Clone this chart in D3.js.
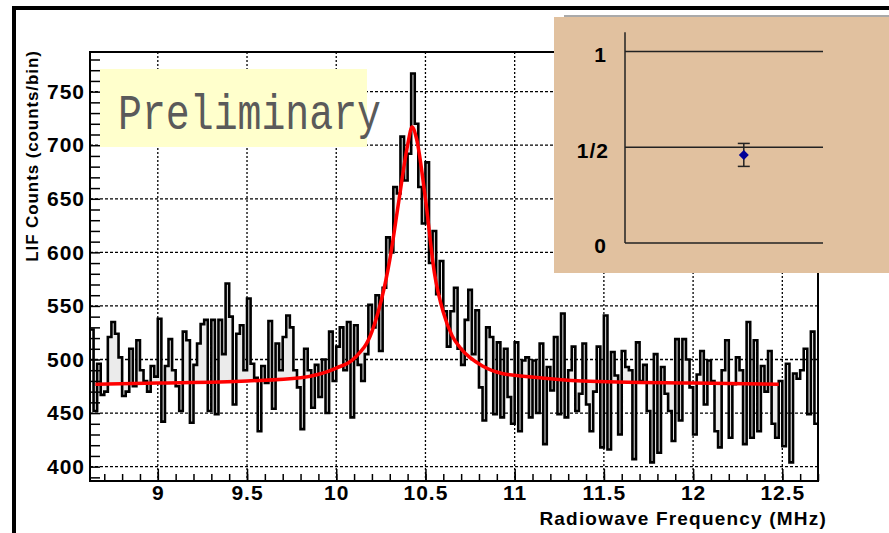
<!DOCTYPE html>
<html>
<head>
<meta charset="utf-8">
<script src="https://cdn.jsdelivr.net/npm/d3@7"></script>
<style>
  body { margin: 0; background: #fff; }
  svg { display: block; }
</style>
</head>
<body>
<svg id="chart" width="889" height="533"></svg>
<script>
// histogram: LIF counts per bin, bins of 0.02 MHz starting at 8.62 MHz
var binStart = 8.62
var binWidth = 0.02
var counts = [
  528, 452, 496, 467, 470, 521, 535, 524, 502, 466,
  470, 510, 475, 518, 490, 480, 470, 494, 484, 538,
  442, 494, 519, 490, 475, 452, 526, 518, 441, 495,
  515, 533, 537, 452, 537, 449, 537, 505, 571, 540,
  458, 524, 532, 490, 557, 496, 483, 433, 494, 478,
  536, 454, 515, 490, 521, 541, 530, 490, 474, 435,
  510, 490, 455, 495, 465, 500, 450, 526, 480, 512,
  530, 490, 535, 446, 532, 495, 480, 505, 551, 530,
  560, 508, 567, 614, 600, 661, 655, 708, 667, 692,
  767, 720, 661, 627, 684, 590, 620, 561, 592, 545,
  512, 545, 567, 510, 495, 537, 565, 505, 546, 474,
  443, 530, 521, 449, 516, 446, 510, 465, 440, 516,
  433, 499, 502, 446, 499, 450, 515, 421, 493, 471,
  521, 449, 543, 446, 490, 512, 452, 468, 515, 458,
  433, 470, 512, 418, 541, 416, 507, 485, 430, 508,
  493, 490, 407, 516, 480, 495, 452, 404, 505, 413,
  493, 468, 452, 424, 519, 443, 519, 500, 474, 430,
  486, 508, 458, 499, 480, 433, 418, 490, 518, 427,
  477, 502, 490, 421, 535, 427, 518, 433, 494, 470,
  508, 440, 427, 480, 419, 496, 404, 487, 482, 490,
  510, 449, 526, 440
]

// fit curve (MHz, counts)
var fitFreq = [8.65, 9.0, 9.5, 9.8, 10.0, 10.1, 10.2, 10.3, 10.35, 10.4, 10.425, 10.45, 10.5, 10.55, 10.6, 10.65, 10.7, 10.82, 10.93, 11.08, 11.38, 12.0, 12.48]
var fitCounts = [477, 478, 480, 483, 492, 501, 526, 593, 647, 700, 717, 706, 650, 581, 544, 522, 510, 494, 487, 484, 480, 478, 477]

var xTicks = [9, 9.5, 10, 10.5, 11, 11.5, 12, 12.5]
var yTicks = [400, 450, 500, 550, 600, 650, 700, 750]

// inset: measured ratio
var insetLabels = ["0", "1/2", "1"]
var insetLevels = [0, 0.5, 1]
var ratioValue = 0.46
var ratioErr = 0.06

var svg = d3.select("#chart")
var padL = 90, padR = 818, padT = 52, padB = 481
var font = "Liberation Sans, Arial, sans-serif"

var x = d3.scaleLinear().domain([binStart, binStart + counts.length * binWidth]).range([padL, padR])
var y = d3.scaleLinear().domain([386.6, 787]).range([padB, padT])

// outer black frame (top and left)
svg.append("rect").attr("x", 12).attr("y", 6).attr("width", 877).attr("height", 4).attr("fill", "#000")
svg.append("rect").attr("x", 12).attr("y", 6).attr("width", 4).attr("height", 527).attr("fill", "#000")

// grid
svg.append("g").selectAll("line")
    .data(xTicks)
    .enter()
    .append("line")
    .attr("x1", d => x(d)).attr("x2", d => x(d))
    .attr("y1", padT).attr("y2", padB)
    .attr("stroke", "#000").attr("stroke-width", 1.3).attr("stroke-dasharray", "2,2")
svg.append("g").selectAll("line")
    .data(yTicks)
    .enter()
    .append("line")
    .attr("x1", padL).attr("x2", padR)
    .attr("y1", d => y(d)).attr("y2", d => y(d))
    .attr("stroke", "#000").attr("stroke-width", 1.3).attr("stroke-dasharray", "3,2")

// histogram steps
var steps = counts.map((c, i) => [binStart + i * binWidth, c])
steps.push([binStart + counts.length * binWidth, counts[counts.length - 1]])

// fit curve generator
var fitLine = d3.line()
    .x((d, i) => x(fitFreq[i]))
    .y(d => y(d))
    .curve(d3.curveMonotoneX)
var fitPath = fitLine(fitCounts)
var x0 = x(fitFreq[0]), x1 = x(fitFreq[fitFreq.length - 1])

// light grey between histogram and fit, done with two clips
var defs = svg.append("defs")
defs.append("clipPath").attr("id", "aboveFit")
    .append("path").attr("d", fitPath + "L" + x1 + "," + padT + "L" + x0 + "," + padT + "Z")
defs.append("clipPath").attr("id", "belowFit")
    .append("path").attr("d", fitPath + "L" + x1 + "," + padB + "L" + x0 + "," + padB + "Z")

var underHist = d3.area()
    .x(d => x(d[0]))
    .y0(padB)
    .y1(d => y(d[1]))
    .curve(d3.curveStepAfter)
var overHist = d3.area()
    .x(d => x(d[0]))
    .y0(padT)
    .y1(d => y(d[1]))
    .curve(d3.curveStepAfter)
svg.append("path").datum(steps).attr("d", underHist)
    .attr("fill", "#ebebeb").attr("clip-path", "url(#aboveFit)")
svg.append("path").datum(steps).attr("d", overHist)
    .attr("fill", "#ebebeb").attr("clip-path", "url(#belowFit)")

var stepLine = d3.line()
    .x(d => x(d[0]))
    .y(d => y(d[1]))
    .curve(d3.curveStepAfter)
svg.append("path")
    .datum(steps)
    .attr("d", stepLine)
    .attr("fill", "none")
    .attr("stroke", "#000")
    .attr("stroke-width", 2.6)

// fit
svg.append("path")
    .attr("d", fitPath)
    .attr("fill", "none")
    .attr("stroke", "#ff0000")
    .attr("stroke-width", 3.5)

// axes
var yMinor = d3.axisLeft(y).tickValues(d3.range(39, 79).map(d => d * 10)).tickSize(-10).tickFormat("")
var yMajor = d3.axisLeft(y).tickValues(yTicks).tickSize(0).tickPadding(5).tickFormat(d3.format("d"))
var xMinor = d3.axisBottom(x).tickValues(d3.range(87, 128).map(d => d / 10)).tickSize(-7).tickFormat("")
var xMajor = d3.axisBottom(x).tickValues(xTicks).tickSize(-12).tickPadding(4).tickFormat(d => String(d))

svg.append("g").attr("transform", "translate(" + padL + ",0)").call(yMinor)
svg.append("g").attr("transform", "translate(" + padL + ",0)").call(yMajor)
svg.append("g").attr("transform", "translate(0," + padB + ")").call(xMinor)
svg.append("g").attr("transform", "translate(0," + padB + ")").call(xMajor)
svg.selectAll(".domain").remove()
svg.selectAll(".tick line").attr("stroke", "#000").attr("stroke-width", 1.5)
svg.selectAll(".tick text")
    .attr("fill", "#000")
    .style("font-family", font)
    .style("font-weight", "bold")
    .style("font-size", "21px")
    .style("letter-spacing", "1px")

// plot frame
svg.append("rect")
    .attr("x", padL).attr("y", padT)
    .attr("width", padR - padL).attr("height", padB - padT)
    .attr("fill", "none").attr("stroke", "#000").attr("stroke-width", 2)

// axis titles
svg.append("text")
    .attr("transform", "translate(38,156)rotate(-90)")
    .attr("text-anchor", "middle")
    .style("font-family", font)
    .style("font-weight", "bold")
    .style("font-size", "17px")
    .style("letter-spacing", "0.9px")
    .text("LIF Counts (counts/bin)")
svg.append("text")
    .attr("x", 827).attr("y", 525)
    .attr("text-anchor", "end")
    .style("font-family", font)
    .style("font-weight", "bold")
    .style("font-size", "19px")
    .style("letter-spacing", "1.2px")
    .text("Radiowave Frequency (MHz)")

// Preliminary label
svg.append("rect")
    .attr("x", 100).attr("y", 69).attr("width", 267).attr("height", 78)
    .attr("fill", "#ffffcc")
svg.append("text")
    .attr("x", 118).attr("y", 129)
    .attr("textLength", 263)
    .attr("lengthAdjust", "spacingAndGlyphs")
    .style("font-family", "Courier New, Liberation Mono, monospace")
    .style("font-size", "50px")
    .style("fill", "#5a5a5a")
    .text("Preliminary")

// inset
var inset = svg.append("g")
inset.append("line").attr("x1", 564).attr("x2", 889).attr("y1", 16).attr("y2", 16)
    .attr("stroke", "#555").attr("stroke-width", 1)
inset.append("rect").attr("x", 554).attr("y", 17).attr("width", 335).attr("height", 256)
    .attr("fill", "#e1c19f")

var ix = d3.scaleLinear().domain([0, 1]).range([625, 823])
var iy = d3.scaleLinear().domain([0, 1]).range([243, 51.5])

inset.append("line")
    .attr("x1", ix(0)).attr("x2", ix(0))
    .attr("y1", iy(0)).attr("y2", iy(1.1))
    .attr("stroke", "#222").attr("stroke-width", 1.5)
inset.selectAll(".level")
    .data(insetLevels)
    .enter()
    .append("line")
    .attr("class", "level")
    .attr("x1", ix(0)).attr("x2", ix(1))
    .attr("y1", d => iy(d)).attr("y2", d => iy(d))
    .attr("stroke", "#222").attr("stroke-width", 1.5)
inset.selectAll(".lab")
    .data(insetLevels)
    .enter()
    .append("text")
    .attr("class", "lab")
    .attr("x", (d, i) => insetLabels[i].length > 1 ? 609 : 607)
    .attr("y", d => iy(d) + 3)
    .attr("dy", "0.35em")
    .attr("text-anchor", "end")
    .style("font-family", font)
    .style("font-weight", "bold")
    .style("font-size", "21px")
    .style("letter-spacing", "1px")
    .text((d, i) => insetLabels[i])

// ratio point with error bar
var px = ix(0.6)
inset.append("line")
    .attr("x1", px).attr("x2", px)
    .attr("y1", iy(ratioValue + ratioErr)).attr("y2", iy(ratioValue - ratioErr))
    .attr("stroke", "#222").attr("stroke-width", 1.5)
;[ratioValue + ratioErr, ratioValue - ratioErr].forEach(function (v) {
    inset.append("line")
        .attr("x1", px - 6).attr("x2", px + 6)
        .attr("y1", iy(v)).attr("y2", iy(v))
        .attr("stroke", "#222").attr("stroke-width", 1.5)
})
inset.append("path")
    .attr("d", d3.symbol(d3.symbolSquare, 50)())
    .attr("transform", "translate(" + px + "," + iy(ratioValue) + ")rotate(45)")
    .attr("fill", "#000099")
</script>
</body>
</html>
